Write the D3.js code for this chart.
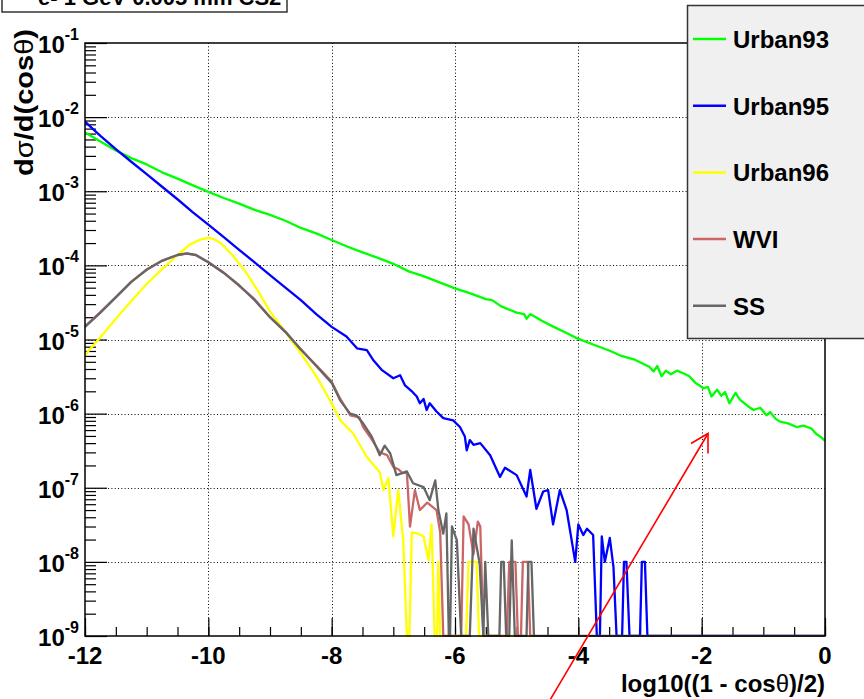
<!DOCTYPE html>
<html>
<head>
<meta charset="utf-8">
<script src="https://cdn.jsdelivr.net/npm/d3@7"></script>
<style>
body { margin: 0; background: #fff; }
svg { display: block; font-family: "Liberation Sans", Arial, sans-serif; font-weight: bold; }
</style>
</head>
<body>
<svg id="chart" width="864" height="699"></svg>
<script>
// x axis: log10((1 - cos theta)/2), y axis: d sigma / d(cos theta), log scale
const xTickValues = [-12, -10, -8, -6, -4, -2, 0];
const yDecades = [-1, -2, -3, -4, -5, -6, -7, -8, -9];

const seriesNames = ["Urban93", "Urban95", "Urban96", "WVI", "SS"];
const seriesColors = ["#00ff00", "#0000ff", "#ffff00", "#cc6666", "#666666"];

// [x, value]; 0 = empty bin
const urban93 = [
  [-12, 6.2e-3], [-11.75, 4.7e-3], [-11.5, 3.55e-3], [-11.25, 2.8e-3], [-11, 2.3e-3], [-10.75, 1.8e-3],
  [-10.5, 1.48e-3], [-10.25, 1.2e-3], [-10, 9.8e-4], [-9.75, 8.1e-4], [-9.5, 6.8e-4], [-9.25, 5.6e-4],
  [-9, 4.8e-4], [-8.75, 4.0e-4], [-8.5, 3.2e-4], [-8.25, 2.7e-4], [-8, 2.2e-4], [-7.75, 1.8e-4],
  [-7.5, 1.5e-4], [-7.25, 1.26e-4], [-7, 1.05e-4], [-6.75, 8.3e-5], [-6.5, 7.1e-5], [-6.25, 5.9e-5],
  [-6, 4.9e-5], [-5.75, 4.2e-5], [-5.5, 3.5e-5], [-5.4, 3.4e-5], [-5.25, 2.8e-5], [-5, 2.3e-5],
  [-4.88, 2.2e-5], [-4.84, 1.9e-5], [-4.78, 2.2e-5], [-4.6, 1.8e-5], [-4.4, 1.48e-5], [-4.2, 1.23e-5],
  [-4, 1.02e-5], [-3.75, 8.5e-6], [-3.5, 7.1e-6], [-3.3, 6.0e-6], [-3.1, 5.4e-6], [-2.95, 4.7e-6],
  [-2.85, 4.3e-6], [-2.78, 3.7e-6], [-2.72, 4.4e-6], [-2.65, 3.2e-6], [-2.58, 3.8e-6], [-2.5, 3.4e-6],
  [-2.4, 3.8e-6], [-2.3, 3.5e-6], [-2.2, 3.2e-6], [-2.1, 2.6e-6], [-1.97, 2.2e-6], [-1.9, 2.3e-6],
  [-1.84, 1.7e-6], [-1.75, 2.1e-6], [-1.68, 1.74e-6], [-1.62, 1.95e-6], [-1.55, 1.38e-6], [-1.45, 1.9e-6],
  [-1.38, 1.55e-6], [-1.25, 1.26e-6], [-1.16, 1.12e-6], [-1.05, 1.2e-6], [-0.95, 9.5e-7], [-0.89, 1.05e-6],
  [-0.8, 8.5e-7], [-0.73, 7.8e-7], [-0.6, 7.4e-7], [-0.46, 6.6e-7], [-0.35, 6.9e-7], [-0.22, 6.3e-7],
  [-0.15, 5.4e-7], [-0.05, 4.7e-7], [0, 4.3e-7]
];

const urban95 = [
  [-12, 8.7e-3], [-11.75, 5.6e-3], [-11.5, 3.7e-3], [-11.25, 2.5e-3], [-11, 1.7e-3], [-10.75, 1.15e-3],
  [-10.5, 7.8e-4], [-10.25, 5.2e-4], [-10, 3.55e-4], [-9.75, 2.4e-4], [-9.5, 1.62e-4], [-9.25, 1.1e-4],
  [-9, 7.4e-5], [-8.75, 5.0e-5], [-8.5, 3.4e-5], [-8.25, 2.2e-5], [-8, 1.48e-5], [-7.76, 1.1e-5],
  [-7.59, 7.6e-6], [-7.43, 7.2e-6], [-7.32, 5.2e-6], [-7.19, 3.9e-6], [-7, 3.0e-6], [-6.89, 3.3e-6],
  [-6.81, 2.4e-6], [-6.7, 2.0e-6], [-6.62, 1.7e-6], [-6.57, 1.38e-6], [-6.51, 1.58e-6], [-6.46, 1.12e-6],
  [-6.41, 1.38e-6], [-6.3, 1.07e-6], [-6.19, 8.7e-7], [-6.03, 8.1e-7], [-5.92, 6.6e-7], [-5.84, 4.9e-7],
  [-5.81, 3.2e-7], [-5.76, 4.4e-7], [-5.7, 3.8e-7], [-5.59, 4.0e-7], [-5.43, 2.75e-7], [-5.27, 1.4e-7],
  [-5.19, 1.86e-7], [-5, 1.48e-7], [-4.84, 7.6e-8], [-4.78, 1.74e-7], [-4.68, 5.2e-8], [-4.57, 8.9e-8],
  [-4.49, 9.3e-8], [-4.41, 3.2e-8], [-4.3, 9.3e-8], [-4.19, 5.0e-8], [-4.05, 1e-8], [-4, 3.2e-8],
  [-3.92, 2.3e-8], [-3.86, 2.8e-8], [-3.76, 2.3e-8], [-3.7, 0], [-3.65, 0], [-3.62, 2.2e-8],
  [-3.57, 1e-8], [-3.49, 2.1e-8], [-3.43, 8.5e-9], [-3.38, 0], [-3.29, 0], [-3.26, 1e-8],
  [-3.22, 1e-8], [-3.17, 0], [-3.0, 0], [-2.97, 1e-8], [-2.92, 1e-8], [-2.88, 0], [0, 0]
];

const urban96 = [
  [-12, 6.2e-6], [-11.75, 1.07e-5], [-11.5, 1.9e-5], [-11.25, 3.3e-5], [-11, 5.6e-5], [-10.75, 8.9e-5],
  [-10.5, 1.38e-4], [-10.3, 1.9e-4], [-10.15, 2.2e-4], [-10, 2.35e-4], [-9.9, 2.24e-4], [-9.8, 2.0e-4],
  [-9.6, 1.35e-4], [-9.4, 8.3e-5], [-9.2, 4.6e-5], [-9, 2.4e-5], [-8.75, 1.26e-5], [-8.5, 6.5e-6],
  [-8.25, 3.2e-6], [-8, 1.38e-6], [-7.86, 8.1e-7], [-7.65, 5.4e-7], [-7.43, 2.6e-7], [-7.22, 1.62e-7],
  [-7.16, 9.3e-8], [-7.08, 1.35e-7], [-7, 2.2e-8], [-6.92, 9.3e-8], [-6.84, 1.95e-8], [-6.78, 0],
  [-6.74, 0], [-6.7, 2.5e-8], [-6.6, 2.4e-8], [-6.51, 2.2e-8], [-6.43, 1.05e-8], [-6.38, 3.2e-8],
  [-6.33, 0], [-6.29, 0], [-6.27, 1e-8], [-6.24, 0], [-5.82, 0], [-5.78, 1e-8], [-5.65, 1e-8],
  [-5.61, 0], [-4.7, 0]
];

const wvi = [
  [-12, 1.5e-5], [-11.75, 2.35e-5], [-11.5, 3.75e-5], [-11.25, 6.0e-5], [-11, 8.8e-5], [-10.75, 1.16e-4],
  [-10.5, 1.38e-4], [-10.35, 1.44e-4], [-10.2, 1.37e-4], [-10, 1.1e-4], [-9.75, 8.0e-5], [-9.5, 5.3e-5],
  [-9.25, 3.5e-5], [-9, 2.0e-5], [-8.75, 1.28e-5], [-8.5, 7.3e-6], [-8.25, 4.5e-6], [-8, 2.7e-6],
  [-7.86, 1.58e-6], [-7.7, 9.5e-7], [-7.55, 8.9e-7], [-7.49, 6.6e-7], [-7.35, 4.5e-7], [-7.22, 3.0e-7],
  [-7.1, 2.75e-7], [-7, 1.9e-7], [-6.92, 1.78e-7], [-6.85, 1.58e-7], [-6.78, 1.6e-7], [-6.73, 3.0e-8],
  [-6.65, 9.3e-8], [-6.57, 5.0e-8], [-6.45, 6.3e-8], [-6.3, 5.0e-8], [-6.24, 2.5e-8], [-6.19, 0],
  [-5.9, 0], [-5.86, 4.1e-8], [-5.78, 3.2e-8], [-5.7, 1.26e-8], [-5.63, 3.5e-8], [-5.59, 3.0e-8],
  [-5.54, 0], [-5.16, 0], [-5.12, 1e-8], [-5.02, 1e-8], [-4.98, 0], [-4.93, 0], [-4.9, 1e-8],
  [-4.82, 1e-8], [-4.78, 0], [-4.7, 0]
];

const ss = [
  [-12, 1.48e-5], [-11.75, 2.3e-5], [-11.5, 3.7e-5], [-11.25, 6.0e-5], [-11, 8.7e-5], [-10.75, 1.15e-4],
  [-10.5, 1.38e-4], [-10.35, 1.45e-4], [-10.2, 1.38e-4], [-10, 1.1e-4], [-9.75, 7.9e-5], [-9.5, 5.4e-5],
  [-9.25, 3.4e-5], [-9, 2.0e-5], [-8.75, 1.26e-5], [-8.5, 7.4e-6], [-8.25, 4.4e-6], [-8, 2.6e-6],
  [-7.86, 1.5e-6], [-7.7, 1.0e-6], [-7.6, 9.5e-7], [-7.49, 7.4e-7], [-7.35, 4.9e-7], [-7.22, 2.75e-7],
  [-7.14, 3.7e-7], [-7.05, 2.9e-7], [-6.95, 1.48e-7], [-6.78, 1.66e-7], [-6.68, 1.15e-7], [-6.51, 1.02e-7],
  [-6.41, 6.8e-8], [-6.32, 1.26e-7], [-6.27, 5.0e-8], [-6.19, 2.4e-8], [-6.14, 4.5e-8], [-6.1, 0],
  [-6.08, 0], [-6.05, 3.0e-8], [-5.97, 1.95e-8], [-5.9, 0], [-5.76, 0], [-5.7, 2.8e-8],
  [-5.6, 9.5e-9], [-5.54, 0], [-5.51, 1e-8], [-5.46, 0], [-5.28, 0], [-5.25, 1e-8],
  [-5.21, 1e-8], [-5.17, 0], [-5.12, 0], [-5.08, 1.95e-8], [-5.03, 0], [-4.84, 0],
  [-4.81, 1e-8], [-4.76, 1e-8], [-4.72, 0], [0, 0]
];

const seriesData = [urban93, urban95, urban96, wvi, ss];

const svg = d3.select("#chart");

const frameLeft = 85, frameRight = 825, frameTop = 43, frameBottom = 636;
const yMin = 1e-9;

const x = d3.scaleLinear().domain([-12, 0]).range([frameLeft, frameRight]);
const y = d3.scaleLog().domain([yMin, 1e-1]).range([frameBottom, frameTop]);

svg.append("defs").append("clipPath").attr("id", "frame-clip")
  .append("rect")
  .attr("x", frameLeft).attr("y", frameTop - 1)
  .attr("width", frameRight - frameLeft).attr("height", frameBottom - frameTop + 2);

// grid (dotted)
let grid = svg.append("g").attr("stroke", "#000").attr("stroke-width", 1).attr("stroke-dasharray", "1,2.3");
grid.selectAll(".gx")
  .data(xTickValues.slice(1, -1))
  .enter().append("line")
  .attr("x1", d => Math.round(x(d)) + 0.5).attr("x2", d => Math.round(x(d)) + 0.5)
  .attr("y1", frameTop).attr("y2", frameBottom);
grid.selectAll(".gy")
  .data(yDecades.slice(1, -1))
  .enter().append("line")
  .attr("x1", frameLeft).attr("x2", frameRight)
  .attr("y1", d => Math.round(y(Math.pow(10, d))) + 0.5)
  .attr("y2", d => Math.round(y(Math.pow(10, d))) + 0.5);

// ticks, drawn inward like ROOT
let minorX = d3.range(-12, 0.001, 0.5);
let minorY = [];
yDecades.slice(1).forEach(e => {
  for (let k = 2; k <= 9; k++) minorY.push(k * Math.pow(10, e));
});

function tickAxis(axis) {
  return g => {
    g.call(axis);
    g.select(".domain").remove();
    g.selectAll("line").attr("stroke", "#000").attr("stroke-width", 1.2);
  };
}

svg.append("g").attr("transform", `translate(0,${frameBottom})`)
  .call(tickAxis(d3.axisBottom(x).tickValues(minorX).tickSize(-9).tickFormat("")));
svg.append("g").attr("transform", `translate(0,${frameBottom})`)
  .call(tickAxis(d3.axisBottom(x).tickValues(xTickValues).tickSize(-18).tickFormat("")));
svg.append("g").attr("transform", `translate(${frameLeft},0)`)
  .call(tickAxis(d3.axisLeft(y).tickValues(minorY).tickSize(-11).tickFormat("")));
svg.append("g").attr("transform", `translate(${frameLeft},0)`)
  .call(tickAxis(d3.axisLeft(y).tickValues(yDecades.map(e => Math.pow(10, e))).tickSize(-22).tickFormat("")));

// histograms
const line = d3.line()
  .x(d => x(d[0]))
  .y(d => y(Math.max(d[1], yMin)));

let curves = svg.append("g").attr("clip-path", "url(#frame-clip)");
curves.selectAll(".curve")
  .data(seriesData)
  .enter().append("path")
  .attr("class", "curve")
  .attr("fill", "none")
  .attr("stroke", (d, i) => seriesColors[i])
  .attr("stroke-width", 2.3)
  .attr("stroke-linejoin", "round")
  .attr("d", line);

// frame
svg.append("rect")
  .attr("x", frameLeft).attr("y", frameTop)
  .attr("width", frameRight - frameLeft).attr("height", frameBottom - frameTop)
  .attr("fill", "none").attr("stroke", "#000").attr("stroke-width", 1.5);

// x tick labels
svg.selectAll(".xlab")
  .data(xTickValues)
  .enter().append("text")
  .attr("x", d => x(d))
  .attr("y", 664)
  .attr("text-anchor", "middle")
  .attr("font-size", 24)
  .text(d => d);

// y tick labels 10^n
let ylab = svg.selectAll(".ylab")
  .data(yDecades)
  .enter().append("text")
  .attr("x", 79)
  .attr("y", d => y(Math.pow(10, d)) + 10)
  .attr("text-anchor", "end")
  .attr("font-size", 24);
ylab.append("tspan").text("10");
ylab.append("tspan").attr("dy", -13).attr("font-size", 16).text(d => d);

// axis titles
let xt = svg.append("text")
  .attr("x", frameRight).attr("y", 692)
  .attr("text-anchor", "end")
  .attr("font-size", 24);
xt.append("tspan").text("log10((1 - cos");
xt.append("tspan").attr("font-weight", "normal").text("θ");
xt.append("tspan").text(")/2)");

let yt = svg.append("text")
  .attr("transform", "translate(33,29) rotate(-90)")
  .attr("text-anchor", "end")
  .attr("font-size", 25)
  .attr("textLength", 147)
  .attr("lengthAdjust", "spacingAndGlyphs");
yt.append("tspan").text("d");
yt.append("tspan").attr("font-weight", "normal").text("σ");
yt.append("tspan").text("/d(cos");
yt.append("tspan").attr("font-weight", "normal").text("θ");
yt.append("tspan").text(")");

// legend
svg.append("rect")
  .attr("x", 687.5).attr("y", 5.5)
  .attr("width", 200).attr("height", 333)
  .attr("fill", "#f0f0f0").attr("stroke", "#333").attr("stroke-width", 1.5);
let leg = svg.selectAll(".leg")
  .data(seriesNames)
  .enter().append("g")
  .attr("transform", (d, i) => `translate(0,${39 + i * 66.7})`);
leg.append("line")
  .attr("x1", 693).attr("x2", 726)
  .attr("stroke", (d, i) => seriesColors[i])
  .attr("stroke-width", 2.5);
leg.append("text")
  .attr("x", 733).attr("y", 9)
  .attr("font-size", 24)
  .text(d => d);

// title box, cut off at top edge
svg.append("rect")
  .attr("x", 2).attr("y", -30)
  .attr("width", 285).attr("height", 42)
  .attr("fill", "#fff").attr("stroke", "#333").attr("stroke-width", 1.5);
svg.append("text")
  .attr("x", 38).attr("y", 5)
  .attr("font-size", 22)
  .text("e- 1 GeV 0.005 mm CS2");

// red arrow annotation
let arrow = svg.append("g").attr("stroke", "#ff0000").attr("stroke-width", 1.6).attr("fill", "none");
arrow.append("line").attr("x1", 550).attr("y1", 700).attr("x2", 708).attr("y2", 433.5);
arrow.append("path").attr("d", "M691,443.5 L708,433.5 L708,453.5");
</script>
</body>
</html>
